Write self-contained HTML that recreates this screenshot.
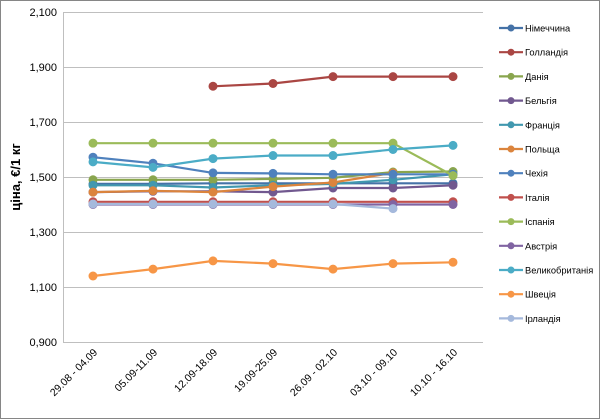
<!DOCTYPE html>
<html><head><meta charset="utf-8"><style>
html,body{margin:0;padding:0;background:#fff}
svg{display:block;font-family:"Liberation Sans",sans-serif}
</style></head><body>
<svg id="c" width="600" height="419" xmlns="http://www.w3.org/2000/svg">
<rect x="0.5" y="0.5" width="599" height="418" fill="#fff" stroke="#868686"/>
<g stroke="#bfbfbf" stroke-width="1">
<line x1="63" y1="12.5" x2="483" y2="12.5"/>
<line x1="63" y1="67.5" x2="483" y2="67.5"/>
<line x1="63" y1="122.5" x2="483" y2="122.5"/>
<line x1="63" y1="177.5" x2="483" y2="177.5"/>
<line x1="63" y1="232.5" x2="483" y2="232.5"/>
<line x1="63" y1="287.5" x2="483" y2="287.5"/>
<line x1="63" y1="342.5" x2="483" y2="342.5"/>
<line x1="63.5" y1="12" x2="63.5" y2="342"/>
</g>
<g font-size="11" fill="#000" text-anchor="end">
<text x="57" y="16">2,100</text><text x="57" y="71">1,900</text><text x="57" y="126">1,700</text>
<text x="57" y="181">1,500</text><text x="57" y="236">1,300</text><text x="57" y="291">1,100</text><text x="57" y="346">0,900</text>
</g>
<text transform="translate(20,177) rotate(-90)" font-size="13" font-weight="bold" text-anchor="middle">ціна, €/1 кг</text>
<g id="xl" font-size="10.5" text-anchor="end"></g>
<g id="s"></g>
<g id="lg" font-size="9.3"></g>
</svg>
<script>
var ns="http://www.w3.org/2000/svg";
function el(t,a,p){var e=document.createElementNS(ns,t);for(var k in a)e.setAttribute(k,a[k]);p.appendChild(e);return e;}
var X=[93,153,213,273,333,393,453];
var cats=["29.08 - 04.09","05.09-11.09","12.09-18.09","19.09-25.09","26.09 - 02.10","03.10 - 09.10","10.10 - 16.10"];
var xl=document.getElementById("xl");
cats.forEach(function(c,i){var t=el("text",{transform:"translate("+(X[i]+5)+",353) rotate(-45)"},xl);t.textContent=c;});
function Y(v){return 12+(2.1-v)/0.2*55;}
var S=[
["Німеччина","#4572a7",[1.475,1.475,1.477,1.477,1.477,1.477,1.477]],
["Голландія","#aa4643",[null,null,1.83,1.84,1.865,1.865,1.865]],
["Данія","#89a54e",[1.49,1.49,1.49,1.493,1.497,1.518,1.52]],
["Бельгія","#71588f",[1.445,1.448,1.448,1.445,1.46,1.46,1.47]],
["Франція","#4198af",[1.47,1.47,1.462,1.47,1.475,1.49,1.51]],
["Польща","#db843d",[1.445,1.45,1.445,1.465,1.48,1.515,null]],
["Чехія","#4f81bd",[1.572,1.55,1.515,1.513,1.51,1.51,1.51]],
["Італія","#c0504d",[1.41,1.41,1.41,1.41,1.41,1.41,1.41]],
["Іспанія","#9bbb59",[1.623,1.623,1.623,1.623,1.623,1.623,1.505]],
["Австрія","#8064a2",[1.40,1.40,1.40,1.40,1.40,1.40,1.40]],
["Великобританія","#4bacc6",[1.555,1.535,1.567,1.578,1.578,1.60,1.615]],
["Швеція","#f79646",[1.14,1.165,1.195,1.185,1.165,1.185,1.19]],
["Ірландія","#a5b9dc",[1.402,1.402,1.402,1.402,1.402,1.385,null]]
];
var sg=document.getElementById("s"),lg=document.getElementById("lg");
S.forEach(function(s,k){
  var pts=[];s[2].forEach(function(v,i){if(v!==null)pts.push(X[i]+","+Y(v).toFixed(1));});
  el("polyline",{points:pts.join(" "),fill:"none",stroke:s[1],"stroke-width":2.2},sg);
  s[2].forEach(function(v,i){if(v!==null)el("circle",{cx:X[i],cy:Y(v),r:4.5,fill:s[1]},sg);});
  var ly=28+k*24.2;
  el("line",{x1:499,y1:ly,x2:523,y2:ly,stroke:s[1],"stroke-width":2.2},lg);
  el("circle",{cx:511,cy:ly,r:3.5,fill:s[1]},lg);
  var t=el("text",{x:525,y:ly+3.5},lg);t.textContent=s[0];
});
</script>
</body></html>
